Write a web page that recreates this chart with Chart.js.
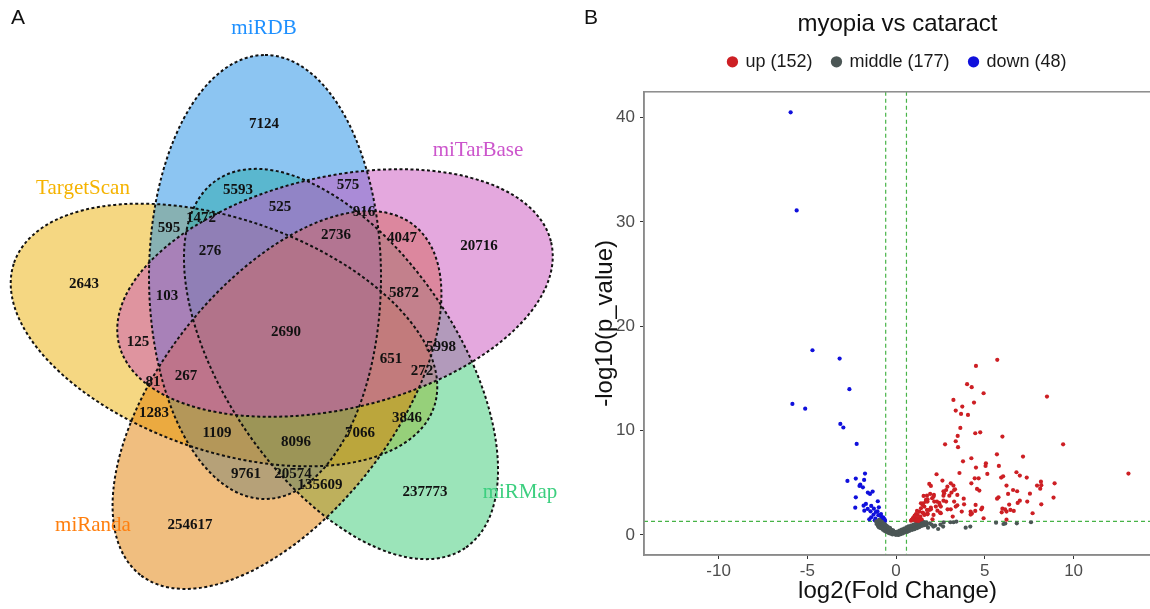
<!DOCTYPE html>
<html>
<head>
<meta charset="utf-8">
<title>miRNA targets: Venn and volcano</title>
<script src="https://cdn.jsdelivr.net/npm/chart.js@4.4.1/dist/chart.umd.min.js"></script>
<style>
  html, body { margin: 0; padding: 0; background: #fff; overflow: hidden; }
  body { width: 1150px; height: 609px; position: relative; }
  .panel { position: absolute; top: 0; height: 609px; }
  #panel-a { left: 0; width: 580px; }
  #panel-b { left: 580px; width: 576px; }
  .tag { position: absolute; top: 5px; font: 21px "Liberation Sans", Arial, sans-serif; color: #111; }
</style>
</head>
<body>
<div class="panel" id="panel-a"><canvas id="venn"></canvas></div>
<div class="panel" id="panel-b"><canvas id="volcano"></canvas></div>
<div class="tag" style="left:11px">A</div>
<div class="tag" style="left:584px">B</div>
<script>
/* panel A: five-way Venn of predicted targets */
const setNames = ["miRDB", "miTarBase", "miRMap", "miRanda", "TargetScan"];
const regionCounts = [7124, 5593, 575, 1472, 525, 916, 595, 2736, 4047, 20716, 276, 2643, 103, 5872,
  2690, 125, 5998, 651, 267, 272, 81, 1283, 3846, 1109, 8096, 7066, 9761, 20574, 135609, 237773, 254617];

/* panel B: volcano, [log2FC, -log10 p] */
const groupNames = ["up", "middle", "down"];
const groupCounts = [152, 177, 48];
const upPoints = [
  [5.70,16.78],[4.50,16.20],[4.00,14.45],[4.26,14.16],[4.93,13.58],[8.50,13.26],[3.23,12.94],[4.39,12.69],
  [3.73,12.30],[3.36,11.92],[3.66,11.60],[4.05,11.50],[3.62,10.26],[4.46,9.75],[4.74,9.84],[5.99,9.43],
  [3.47,9.49],[3.36,8.98],[2.76,8.69],[3.49,8.41],[9.41,8.69],[5.68,7.73],[7.15,7.51],[4.24,7.35],
  [3.77,7.06],[5.06,6.87],[5.04,6.62],[5.79,6.62],[4.50,6.46],[3.57,5.94],[2.28,5.82],[5.14,5.85],
  [6.78,6.01],[6.97,5.69],[7.36,5.50],[5.92,5.50],[6.03,5.62],[4.43,5.43],[4.65,5.43],[2.61,5.21],
  [13.09,5.88],[8.16,5.11],[8.93,4.95],[1.87,4.89],[1.96,4.70],[3.08,4.95],[4.24,4.95],[6.22,4.73],
  [3.23,4.73],[2.89,4.63],[7.94,4.73],[3.32,4.38],[8.12,4.44],[8.18,4.77],[2.67,4.19],[4.56,4.41],
  [4.69,4.25],[6.59,4.31],[6.82,4.19],[6.31,3.93],[5.77,3.61],[5.69,3.48],[2.82,4.31],[3.12,4.06],
  [3.45,3.84],[3.00,3.77],[7.54,3.96],[8.87,3.58],[8.18,2.94],[1.74,3.77],[2.13,3.84],[2.03,3.52],
  [1.77,3.42],[2.30,3.20],[2.67,3.77],[3.81,3.48],[3.83,2.94],[3.45,2.84],[2.43,3.07],[2.46,2.88],
  [3.08,2.46],[1.53,3.04],[1.59,2.72],[1.96,2.62],[2.33,2.33],[1.40,2.56],[4.85,2.62],[4.80,2.46],
  [4.46,2.30],[4.27,2.05],[4.20,1.95],[5.99,2.52],[6.14,2.46],[5.95,2.17],[6.22,2.24],[6.44,2.40],
  [6.63,2.30],[6.37,2.91],[6.85,3.07],[6.97,3.29],[7.39,3.20],[7.69,2.08],[4.93,1.60],[6.22,1.47],
  [2.05,1.50],[1.49,2.14],[1.21,1.92],[1.36,1.76],[1.12,1.60],[1.59,1.92],[1.77,2.08],[1.87,2.40],
  [1.49,2.88],[1.68,3.20],[1.03,1.44],[1.31,1.44],[2.48,2.14],[2.24,2.72],[2.67,3.29],[2.82,3.20],
  [3.27,4.31],[2.71,4.00],[1.55,3.74],[1.92,3.93],[2.11,3.68],[2.15,3.20],[1.77,3.20],[2.52,2.72],
  [3.27,3.20],[3.36,2.72],[1.40,3.04],[1.74,2.40],[1.96,2.46],[1.31,2.24],[1.55,2.08],[1.77,1.98],
  [1.12,2.01],[1.03,1.76],[1.21,1.60],[0.93,1.50],[1.44,1.50],[0.84,1.37],[1.12,1.37],[2.11,1.92],
  [2.52,2.08],[2.90,2.46],[3.19,1.76],[4.20,2.24],[4.48,2.88],[3.70,2.24],[1.68,3.36],[0.95,1.62],
  [1.05,1.85],[1.18,2.30],[1.26,1.35],[0.88,1.45]
];
const middlePoints = [
  [-1.05,1.25],[-1.00,1.10],[-0.98,1.30],[-0.95,0.95],[-0.92,1.18],[-0.90,1.02],[-0.88,0.85],[-0.85,1.20],
  [-0.83,0.92],[-0.80,1.05],[-0.78,0.78],[-0.76,0.95],[-0.73,0.70],[-0.70,0.86],[-0.68,1.00],[-0.66,0.62],
  [-0.64,0.78],[-0.62,0.55],[-0.60,0.70],[-0.58,0.88],[-0.55,0.50],[-0.53,0.64],[-0.50,0.45],[-0.48,0.58],
  [-0.46,0.75],[-0.43,0.40],[-0.41,0.52],[-0.38,0.35],[-0.36,0.46],[-0.34,0.60],[-0.31,0.30],[-0.29,0.40],
  [-0.27,0.22],[-0.25,0.34],[-0.22,0.18],[-0.20,0.28],[-0.18,0.40],[-0.16,0.14],[-0.14,0.24],[-0.12,0.10],
  [-0.10,0.18],[-0.08,0.30],[-0.06,0.06],[-0.04,0.14],[-0.02,0.04],[0.00,0.10],[0.02,0.02],[0.04,0.20],
  [0.06,0.08],[0.09,0.15],[0.12,0.05],[0.15,0.22],[0.18,0.12],[0.21,0.30],[0.24,0.18],[0.27,0.26],
  [0.30,0.38],[0.33,0.24],[0.36,0.32],[0.40,0.45],[0.43,0.30],[0.46,0.40],[0.50,0.52],[0.53,0.36],
  [0.56,0.46],[0.60,0.58],[0.63,0.42],[0.66,0.52],[0.70,0.64],[0.73,0.48],[0.76,0.60],[0.80,0.72],
  [0.83,0.55],[0.86,0.66],[0.90,0.80],[0.93,0.62],[0.96,0.74],[1.00,0.88],[1.03,0.70],[1.06,0.82],
  [1.10,0.95],[1.13,0.78],[1.16,0.90],[1.20,1.05],[1.23,0.85],[1.26,0.98],[1.30,1.12],[1.33,0.92],
  [1.36,1.06],[1.40,1.20],[1.44,1.00],[1.48,1.12],[1.52,1.25],[1.56,1.05],[1.60,0.95],[1.72,0.96],
  [1.90,1.12],[2.10,0.80],[2.37,0.57],[2.65,0.80],[2.68,1.20],[3.06,1.22],[3.24,1.22],[3.40,1.28],
  [3.92,0.70],[4.18,0.80],[5.63,1.18],[6.05,1.05],[6.15,1.10],[6.80,1.12],[7.60,1.22],[1.80,0.70],
  [2.00,1.00],[2.20,0.90],[2.50,1.00],
  [-1.02,0.85],[-0.96,0.72],[-0.90,1.35],[-0.86,0.65],[-0.80,1.25],[-0.74,0.50],[-0.70,1.10],[-0.66,0.40],
  [-0.60,0.98],[-0.56,0.32],[-0.52,0.85],[-0.47,0.25],[-0.44,0.70],[-0.40,0.18],[-0.35,0.68],[-0.30,0.12],
  [-0.26,0.50],[-0.20,0.05],[-0.17,0.45],[-0.12,0.32],[-0.06,0.28],[-1.10,1.05],[-1.12,1.30],[-0.95,1.45],
  [0.08,0.32],[0.14,0.00],[0.20,0.42],[0.26,0.08],[0.32,0.52],[0.38,0.15],[0.45,0.62],[0.50,0.25],
  [0.58,0.72],[0.64,0.30],[0.70,0.82],[0.76,0.40],[0.84,0.90],[0.90,0.48],[0.98,1.00],[1.04,0.55],
  [1.12,1.10],[1.18,0.65],[1.25,1.20],[1.30,0.75],[1.40,0.85],[1.50,0.90],[1.58,1.20],[1.65,1.05],
  [1.70,1.20]
];
const downPoints = [
  [-5.94,40.5],[-5.60,31.1],[-4.71,17.7],[-3.18,16.9],[-2.63,13.97],[-5.84,12.56],[-5.12,12.1],[-3.14,10.64],
  [-2.97,10.3],[-2.22,8.72],[-1.75,5.88],[-2.27,5.4],[-1.80,5.27],[-2.74,5.18],[-2.02,4.83],[-1.87,4.57],
  [-2.06,4.7],[-1.59,4.06],[-1.32,4.16],[-1.47,3.93],[-2.27,3.61],[-1.03,3.23],[-1.83,2.81],[-1.70,2.97],
  [-1.40,2.78],[-0.97,2.65],[-2.30,2.62],[-1.25,2.52],[-1.79,2.33],[-1.44,2.27],[-1.14,2.2],[-1.05,2.27],
  [-1.27,1.95],[-1.51,1.5],[-1.16,1.56],[-0.84,1.75],[-0.73,1.7],[-0.80,1.6],[-0.70,1.6],[-1.40,1.7],
  [-0.75,1.45],[-0.65,1.5],[-0.90,1.4],[-1.20,1.4],[-0.62,1.35],[-1.00,1.9],[-0.85,2.0],[-1.60,2.5]
];
const xTickValues = [-10, -5, 0, 5, 10];
const yTickValues = [0, 10, 20, 30, 40];
const foldCut = 0.585;   // |log2FC| threshold
const pCut = 1.301;      // -log10(0.05)

/* layout of panel A (pixel units of the venn canvas) */
const regionX = [264, 238, 348, 201, 280, 364, 169, 336, 402, 479, 210, 84, 167, 404,
  286, 138, 441, 391, 186, 422, 153, 154, 407, 217, 296, 360, 246, 293, 320, 425, 190];
const regionY = [124, 190, 185, 218, 207, 212, 228, 235, 238, 246, 251, 284, 296, 293,
  332, 342, 347, 359, 376, 371, 382, 413, 418, 433, 442, 433, 474, 474, 485, 492, 525];
const setLabelX = [264, 478, 520, 93, 83];
const setLabelY = [28, 150, 492, 525, 188];
const ellipseCX = [265, 335, 341, 277, 224];
const ellipseCY = [277, 293, 364, 400, 335];
const ellipseAngle = [-90, -13.2, 56, 128, 199];
const ellipseA = 222, ellipseB = 116;
const setFill = ["rgba(25,140,230,0.5)", "rgba(201,81,189,0.5)", "rgba(55,201,115,0.5)",
  "rgba(225,125,0,0.5)", "rgba(235,175,5,0.5)"];
const setText = ["#1e90ff", "#cc55cc", "#3ccf7f", "#ff7f0e", "#f5b301"];
const fillOrder = [4, 2, 0, 3, 1];

const volcColors = ["#cd1f24", "#4b5655", "#1010dc"];

Chart.defaults.font.family = '"Liberation Sans", Arial, sans-serif';

const vennShapes = {
  id: "vennShapes",
  beforeDatasetsDraw(chart) {
    const { ctx, scales: { x, y } } = chart;
    const k = x.getPixelForValue(1) - x.getPixelForValue(0);
    const path = (i) => {
      ctx.beginPath();
      ctx.ellipse(x.getPixelForValue(ellipseCX[i]), y.getPixelForValue(ellipseCY[i]),
        ellipseA * k, ellipseB * k, (ellipseAngle[i] * Math.PI) / 180, 0, Math.PI * 2);
    };
    ctx.save();
    fillOrder.forEach((i) => { path(i); ctx.fillStyle = setFill[i]; ctx.fill(); });
    ctx.setLineDash([3, 2.5]);
    ctx.lineWidth = 2;
    ctx.strokeStyle = "#111";
    setNames.forEach((_, i) => { path(i); ctx.stroke(); });
    ctx.restore();
  },
  afterDatasetsDraw(chart) {
    const { ctx, scales: { x, y } } = chart;
    const meta = chart.getDatasetMeta(0);
    ctx.save();
    ctx.textAlign = "center";
    ctx.textBaseline = "middle";
    ctx.font = 'bold 15px "Liberation Serif", "DejaVu Serif", serif';
    ctx.fillStyle = "#111";
    meta.data.forEach((pt, i) => ctx.fillText(String(regionCounts[i]), pt.x, pt.y));
    ctx.font = '21px "Liberation Serif", "DejaVu Serif", serif';
    setNames.forEach((name, i) => {
      ctx.fillStyle = setText[i];
      ctx.fillText(name, x.getPixelForValue(setLabelX[i]), y.getPixelForValue(setLabelY[i]));
    });
    ctx.restore();
  },
};

new Chart(document.getElementById("venn"), {
  type: "scatter",
  data: {
    datasets: [{ data: regionCounts.map((_, i) => ({ x: regionX[i], y: regionY[i] })), pointRadius: 0 }],
  },
  options: {
    responsive: true,
    maintainAspectRatio: false,
    animation: false,
    events: [],
    devicePixelRatio: 1,
    layout: { padding: 0 },
    plugins: { legend: { display: false }, tooltip: { enabled: false } },
    scales: {
      x: { type: "linear", min: 0, max: 580, display: false },
      y: { type: "linear", min: 0, max: 609, reverse: true, display: false },
    },
  },
  plugins: [vennShapes],
});

// extra room between legend and the panel
const legendSpacer = {
  id: "legendSpacer",
  beforeInit(chart) {
    const lg = chart.legend;
    if (!lg) return;
    const fit = lg.fit;
    lg.fit = function () { fit.call(this); this.height += 11; };
  },
};

const thresholdLines = {
  id: "thresholdLines",
  beforeDatasetsDraw(chart) {
    const { ctx, chartArea: a, scales: { x, y } } = chart;
    ctx.save();
    ctx.beginPath();
    ctx.rect(a.left, a.top, a.width, a.height);
    ctx.clip();
    ctx.strokeStyle = "#47b347";
    ctx.lineWidth = 1.2;
    ctx.setLineDash([4, 3]);
    [-foldCut, foldCut].forEach((v) => {
      const px = x.getPixelForValue(v);
      ctx.beginPath(); ctx.moveTo(px, a.top); ctx.lineTo(px, a.bottom); ctx.stroke();
    });
    const py = y.getPixelForValue(pCut);
    ctx.beginPath(); ctx.moveTo(a.left, py); ctx.lineTo(a.right, py); ctx.stroke();
    ctx.restore();
  },
};

const panelBox = {
  id: "panelBox",
  afterDraw(chart) {
    const { ctx, chartArea: a } = chart;
    ctx.save();
    ctx.strokeStyle = "#8a8a8a";
    ctx.lineWidth = 1.5;
    ctx.strokeRect(a.left, a.top, a.width, a.height);
    ctx.restore();
  },
};

const toXY = (pts) => pts.map((p) => ({ x: p[0], y: p[1] }));
const groupData = [upPoints, middlePoints, downPoints];

const tickStyle = { color: "#4d4d4d", font: { size: 17 }, autoSkip: false, maxRotation: 0 };
const gridStyle = { display: true, drawOnChartArea: false, drawTicks: true, tickLength: 4, tickColor: "#333", tickWidth: 1 };

new Chart(document.getElementById("volcano"), {
  type: "scatter",
  data: {
    datasets: groupNames.map((name, i) => ({
      label: `${name} (${groupCounts[i]})`,
      data: toXY(groupData[i]),
      backgroundColor: volcColors[i],
      borderColor: volcColors[i],
      borderWidth: 0,
      pointRadius: 2.1,
      pointStyle: "circle",
    })),
  },
  options: {
    responsive: true,
    maintainAspectRatio: false,
    animation: false,
    events: [],
    devicePixelRatio: 1,
    layout: { padding: { left: 0, right: 5, top: 0, bottom: 0 } },
    plugins: {
      tooltip: { enabled: false },
      legend: {
        position: "top",
        fullSize: false,
        title: {
          display: true,
          text: "myopia vs cataract",
          color: "#111",
          font: { size: 24, lineHeight: 1.2 },
          padding: { top: 12, bottom: -8 },
        },
        labels: {
          usePointStyle: true,
          pointStyle: "circle",
          boxWidth: 8,
          boxHeight: 8,
          padding: 20,
          color: "#1a1a1a",
          font: { size: 18 },
        },
      },
    },
    scales: {
      x: {
        type: "linear",
        min: -14.2,
        max: 14.36,
        afterFit: (s) => { s.height = 54; },
        afterBuildTicks: (s) => { s.ticks = xTickValues.map((v) => ({ value: v })); },
        ticks: { ...tickStyle, padding: 2 },
        grid: gridStyle,
        border: { display: true, color: "#8a8a8a", width: 1.5 },
        title: { display: true, text: "log2(Fold Change)", color: "#111", font: { size: 24, lineHeight: 1.2 }, padding: { top: 0, bottom: 3 } },
      },
      y: {
        type: "linear",
        min: -1.92,
        max: 42.47,
        afterFit: (s) => { s.width = 64; },
        afterBuildTicks: (s) => { s.ticks = yTickValues.map((v) => ({ value: v })); },
        ticks: { ...tickStyle, padding: 5 },
        grid: gridStyle,
        border: { display: true, color: "#8a8a8a", width: 1.5 },
        title: { display: true, text: "-log10(p_value)", color: "#111", font: { size: 24, lineHeight: 1.2 }, padding: { top: 11, bottom: 0 } },
      },
    },
  },
  plugins: [legendSpacer, thresholdLines, panelBox],
});
</script>
</body>
</html>
